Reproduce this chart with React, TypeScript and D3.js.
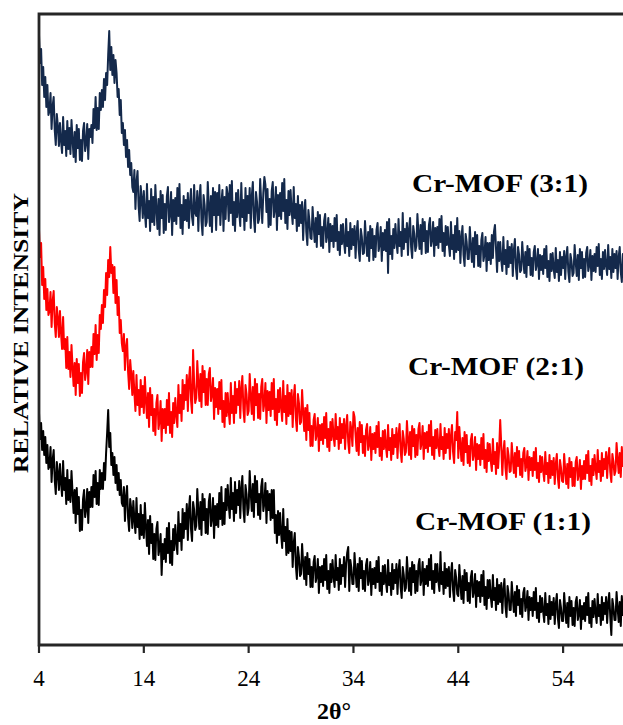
import React from "react";
import * as d3 from "d3";

// XRD patterns sampled every 0.1° from 2θ = 4° to 60° (relative intensity, a.u.)
const TWO_THETA_START = 4;
const TWO_THETA_STEP = 0.1;
const X_TICKS = [4, 14, 24, 34, 44, 54];
const SERIES_NAMES = ["Cr-MOF (3:1)", "Cr-MOF (2:1)", "Cr-MOF (1:1)"];

const CR_MOF_31 = [
  610, 582, 596, 560, 578, 548, 568, 538, 560, 530, // 4
  534, 552, 516, 539, 548, 515, 500, 531, 519, 499, // 5
  522, 504, 492, 528, 500, 514, 489, 524, 496, 517, // 6
  491, 525, 505, 488, 513, 483, 520, 497, 516, 485, // 7
  505, 484, 514, 522, 494, 502, 521, 486, 516, 508, // 8
  520, 502, 536, 517, 548, 515, 537, 516, 552, 535, // 9
  555, 538, 566, 545, 572, 560, 590, 614, 575, 598, // 10
  570, 590, 562, 585, 572, 548, 556, 530, 545, 512, // 11
  522, 500, 515, 488, 505, 478, 495, 470, 482, 458, // 12
  453, 475, 436, 463, 474, 439, 424, 459, 447, 427, // 13
  454, 432, 418, 461, 427, 444, 414, 456, 423, 448, // 14
  420, 460, 436, 416, 446, 410, 454, 427, 450, 412, // 15
  441, 415, 449, 458, 423, 431, 453, 410, 445, 424, // 16
  447, 421, 457, 429, 461, 417, 440, 411, 449, 425, // 17
  445, 424, 452, 417, 442, 456, 428, 420, 460, 432, // 18
  429, 454, 414, 446, 460, 424, 410, 450, 440, 419, // 19
  423, 463, 439, 419, 449, 413, 457, 430, 453, 415, // 20
  452, 430, 460, 420, 442, 455, 414, 448, 426, 458, // 21
  450, 424, 460, 432, 464, 420, 443, 414, 452, 428, // 22
  455, 433, 419, 462, 428, 445, 415, 457, 424, 449, // 23
  432, 457, 417, 449, 463, 427, 413, 453, 443, 422, // 24
  426, 466, 442, 422, 452, 468, 460, 433, 456, 418, // 25
  446, 420, 454, 463, 428, 436, 458, 415, 450, 429, // 26
  452, 426, 462, 434, 466, 422, 445, 416, 454, 430, // 27
  455, 434, 421, 458, 427, 441, 414, 449, 419, 440, // 28
  422, 443, 405, 433, 445, 413, 400, 435, 424, 407, // 29
  406, 438, 419, 403, 427, 398, 433, 411, 430, 399, // 30
  418, 397, 424, 431, 403, 410, 427, 393, 421, 404, // 31
  419, 398, 427, 404, 430, 395, 413, 390, 420, 401, // 32
  421, 403, 392, 426, 399, 413, 389, 422, 396, 416, // 33
  400, 419, 387, 413, 424, 395, 384, 416, 408, 391, // 34
  392, 424, 405, 389, 413, 384, 419, 397, 416, 385, // 35
  409, 388, 415, 422, 394, 401, 418, 384, 412, 395, // 36
  415, 394, 423, 372, 426, 391, 409, 386, 416, 397, // 37
  421, 403, 392, 426, 399, 413, 389, 432, 396, 416, // 38
  403, 422, 390, 416, 427, 398, 387, 419, 411, 394, // 39
  399, 431, 412, 396, 420, 391, 426, 404, 423, 392, // 40
  414, 393, 420, 427, 399, 406, 423, 389, 417, 400, // 41
  418, 397, 426, 403, 429, 394, 412, 389, 419, 400, // 42
  418, 400, 389, 423, 396, 410, 386, 419, 393, 427, // 43
  395, 414, 382, 408, 419, 390, 379, 411, 403, 386, // 44
  386, 418, 399, 383, 407, 378, 413, 391, 410, 379, // 45
  399, 378, 405, 412, 384, 391, 408, 374, 402, 385, // 46
  402, 381, 410, 387, 413, 420, 396, 373, 403, 384, // 47
  403, 385, 374, 408, 381, 395, 371, 404, 378, 398, // 48
  382, 401, 369, 395, 406, 377, 366, 398, 390, 373, // 49
  375, 403, 386, 372, 393, 368, 399, 380, 396, 370, // 50
  387, 369, 393, 399, 375, 381, 396, 366, 390, 375, // 51
  389, 371, 396, 377, 399, 368, 384, 364, 391, 374, // 52
  392, 376, 367, 397, 373, 385, 364, 393, 370, 388, // 53
  377, 394, 366, 388, 398, 373, 363, 391, 384, 369, // 54
  372, 400, 383, 369, 390, 365, 396, 377, 393, 367, // 55
  386, 368, 392, 398, 374, 380, 395, 365, 389, 374, // 56
  391, 373, 398, 379, 401, 370, 386, 366, 393, 376, // 57
  395, 379, 370, 400, 376, 388, 367, 396, 373, 391, // 58
  377, 394, 366, 388, 398, 373, 363, 391, 384, 369, // 59
  378,
];

const CR_MOF_21 = [
  415, 388, 402, 360, 378, 346, 366, 335, 356, 330, // 4
  334, 353, 318, 344, 354, 322, 308, 338, 327, 308, // 5
  334, 312, 296, 328, 296, 306, 277, 308, 276, 293, // 6
  268, 300, 278, 259, 282, 250, 286, 262, 281, 249, // 7
  272, 252, 283, 292, 265, 274, 295, 261, 293, 278, // 8
  298, 278, 311, 291, 320, 285, 310, 292, 330, 316, // 9
  340, 322, 355, 338, 372, 350, 385, 368, 398, 372, // 10
  380, 352, 378, 342, 365, 330, 348, 312, 325, 302, // 11
  294, 311, 275, 298, 306, 273, 256, 285, 271, 250, // 12
  274, 252, 234, 270, 240, 255, 230, 265, 238, 259, // 13
  232, 268, 245, 227, 252, 218, 257, 230, 250, 214, // 14
  236, 210, 242, 250, 216, 224, 244, 204, 236, 217, // 15
  236, 212, 245, 220, 252, 212, 233, 208, 242, 222, // 16
  247, 230, 218, 260, 232, 250, 224, 265, 236, 260, // 17
  245, 270, 234, 264, 278, 245, 232, 295, 262, 242, // 18
  247, 284, 262, 244, 271, 238, 279, 253, 274, 240, // 19
  266, 240, 271, 277, 244, 251, 267, 226, 257, 238, // 20
  256, 231, 263, 236, 265, 223, 244, 218, 252, 229, // 21
  252, 234, 221, 262, 232, 249, 222, 263, 232, 256, // 22
  240, 264, 227, 256, 269, 236, 223, 260, 251, 230, // 23
  234, 271, 249, 231, 258, 225, 266, 240, 261, 227, // 24
  251, 226, 258, 266, 234, 242, 262, 222, 254, 235, // 25
  253, 229, 262, 236, 266, 225, 246, 220, 255, 233, // 26
  257, 238, 224, 264, 233, 249, 221, 260, 229, 252, // 27
  231, 255, 218, 247, 260, 227, 214, 251, 242, 221, // 28
  223, 255, 233, 214, 237, 205, 240, 215, 232, 199, // 29
  219, 199, 225, 231, 205, 211, 227, 194, 220, 205, // 30
  221, 201, 228, 207, 232, 198, 216, 194, 223, 205, // 31
  226, 209, 199, 231, 206, 218, 196, 227, 202, 221, // 32
  207, 226, 196, 219, 230, 203, 192, 223, 215, 199, // 33
  233, 228, 210, 194, 217, 190, 223, 203, 220, 192, // 34
  209, 189, 215, 221, 195, 201, 218, 185, 211, 196, // 35
  212, 192, 219, 198, 223, 189, 207, 185, 214, 196, // 36
  215, 198, 188, 220, 195, 207, 185, 216, 191, 210, // 37
  198, 217, 187, 210, 221, 194, 183, 214, 206, 190, // 38
  193, 224, 206, 190, 213, 186, 219, 199, 216, 188, // 39
  210, 190, 216, 222, 196, 202, 219, 186, 212, 197, // 40
  213, 193, 220, 199, 224, 190, 208, 186, 215, 197, // 41
  216, 199, 189, 221, 196, 208, 186, 217, 192, 211, // 42
  197, 216, 186, 209, 220, 193, 182, 213, 205, 233, // 43
  187, 218, 200, 184, 207, 180, 213, 193, 210, 182, // 44
  199, 179, 205, 211, 185, 191, 208, 175, 201, 186, // 45
  200, 180, 207, 186, 211, 177, 195, 173, 202, 184, // 46
  201, 184, 174, 206, 181, 193, 171, 202, 177, 196, // 47
  225, 200, 170, 193, 204, 177, 166, 197, 189, 173, // 48
  174, 202, 186, 172, 192, 168, 198, 179, 194, 170, // 49
  186, 168, 192, 197, 174, 180, 194, 165, 188, 175, // 50
  187, 169, 193, 175, 197, 167, 182, 163, 189, 173, // 51
  188, 174, 164, 193, 171, 182, 162, 190, 167, 184, // 52
  170, 187, 161, 181, 191, 167, 157, 185, 177, 164, // 53
  163, 191, 175, 161, 181, 157, 187, 168, 183, 159, // 54
  177, 159, 183, 188, 165, 171, 185, 156, 179, 166, // 55
  184, 166, 190, 172, 194, 164, 179, 160, 186, 170, // 56
  190, 176, 166, 195, 173, 184, 164, 192, 169, 186, // 57
  176, 193, 167, 187, 197, 173, 163, 191, 183, 170, // 58
  174, 202, 186, 172, 192, 168, 198, 179, 194, 170, // 59
  186,
];

const CR_MOF_11 = [
  232, 206, 222, 195, 214, 190, 208, 182, 200, 176, // 4
  179, 198, 163, 185, 195, 165, 151, 183, 172, 155, // 5
  181, 162, 149, 184, 155, 167, 141, 175, 145, 165, // 6
  143, 174, 152, 132, 155, 122, 157, 131, 148, 114, // 7
  135, 115, 146, 155, 128, 136, 156, 122, 153, 138, // 8
  158, 138, 170, 148, 174, 141, 162, 140, 175, 156, // 9
  172, 156, 182, 165, 192, 212, 235, 198, 212, 180, // 10
  192, 170, 188, 162, 180, 155, 172, 150, 165, 142, // 11
  139, 158, 124, 148, 159, 127, 114, 146, 136, 117, // 12
  144, 125, 112, 147, 118, 131, 106, 140, 110, 130, // 13
  107, 142, 119, 99, 125, 91, 129, 102, 121, 86, // 14
  111, 85, 116, 123, 90, 97, 111, 70, 101, 86, // 15
  106, 83, 117, 92, 122, 82, 104, 80, 116, 95, // 16
  120, 103, 91, 133, 104, 121, 95, 136, 107, 132, // 17
  116, 141, 105, 135, 149, 116, 104, 143, 135, 115, // 18
  119, 156, 134, 116, 143, 110, 151, 125, 146, 112, // 19
  136, 111, 143, 151, 119, 127, 147, 107, 139, 120, // 20
  141, 118, 152, 126, 158, 120, 142, 121, 156, 135, // 21
  160, 141, 127, 167, 136, 152, 124, 163, 132, 155, // 22
  140, 164, 127, 156, 169, 136, 123, 160, 151, 130, // 23
  137, 174, 152, 134, 161, 128, 169, 143, 164, 130, // 24
  151, 126, 158, 166, 134, 142, 162, 122, 154, 135, // 25
  151, 125, 155, 127, 155, 112, 130, 102, 134, 110, // 26
  132, 111, 97, 136, 104, 118, 90, 126, 92, 114, // 27
  94, 113, 78, 102, 112, 80, 66, 98, 88, 69, // 28
  71, 101, 82, 66, 88, 60, 92, 71, 86, 58, // 29
  78, 58, 83, 89, 63, 69, 86, 52, 78, 63, // 30
  79, 59, 86, 65, 90, 56, 74, 52, 81, 63, // 31
  85, 68, 58, 90, 65, 77, 55, 86, 61, 80, // 32
  69, 88, 58, 81, 92, 98, 54, 85, 77, 61, // 33
  61, 92, 74, 58, 81, 54, 87, 67, 84, 56, // 34
  74, 54, 80, 86, 60, 66, 83, 50, 76, 61, // 35
  77, 57, 84, 63, 88, 54, 72, 50, 79, 61, // 36
  80, 63, 53, 85, 60, 72, 50, 81, 56, 75, // 37
  62, 81, 51, 74, 85, 58, 47, 78, 70, 54, // 38
  57, 88, 70, 54, 77, 50, 83, 63, 80, 52, // 39
  74, 54, 80, 86, 60, 66, 83, 50, 76, 61, // 40
  79, 59, 86, 65, 90, 56, 74, 52, 81, 63, // 41
  81, 64, 54, 93, 61, 73, 51, 82, 57, 76, // 42
  59, 78, 48, 71, 82, 55, 44, 75, 67, 51, // 43
  49, 80, 62, 46, 69, 42, 75, 55, 72, 44, // 44
  62, 42, 68, 74, 48, 54, 71, 38, 64, 49, // 45
  63, 43, 70, 49, 74, 40, 58, 36, 65, 47, // 46
  65, 48, 38, 70, 45, 57, 35, 66, 41, 60, // 47
  43, 62, 32, 55, 66, 39, 28, 59, 51, 35, // 48
  35, 63, 47, 33, 53, 29, 59, 40, 55, 31, // 49
  46, 28, 52, 57, 34, 40, 54, 25, 48, 35, // 50
  47, 29, 53, 35, 57, 27, 42, 23, 49, 33, // 51
  47, 33, 23, 52, 30, 41, 21, 49, 26, 43, // 52
  30, 47, 21, 41, 51, 27, 17, 45, 37, 24, // 53
  24, 52, 36, 22, 42, 18, 48, 29, 44, 20, // 54
  37, 19, 43, 48, 25, 31, 45, 16, 39, 26, // 55
  42, 24, 48, 30, 52, 22, 37, 18, 44, 28, // 56
  46, 32, 22, 51, 29, 40, 20, 48, 25, 42, // 57
  31, 48, 22, 42, 52, 28, 10, 46, 38, 25, // 58
  25, 53, 37, 23, 43, 19, 49, 30, 45, 21, // 59
  33,
];

const SERIES = [
  { name: SERIES_NAMES[0], values: CR_MOF_31, color: "#14294b", label: { x: 500, y: 192 } },
  { name: SERIES_NAMES[1], values: CR_MOF_21, color: "#ff0000", label: { x: 496, y: 375 } },
  { name: SERIES_NAMES[2], values: CR_MOF_11, color: "#000000", label: { x: 503, y: 530 } },
];

const W = 623;
const H = 725;
const M = { left: 39, top: 14, right: 626, bottom: 645 };

export default function App() {
  const x = d3.scaleLinear().domain([4, 60]).range([M.left, M.right]);
  const y = d3.scaleLinear().domain([0, 631]).range([M.bottom, M.top]);
  const line = d3
    .line<number>()
    .x((_, i) => x(TWO_THETA_START + i * TWO_THETA_STEP))
    .y((v) => y(v));

  const font = "'Liberation Serif', 'Times New Roman', serif";

  return (
    <svg
      width={W}
      height={H}
      style={{ position: "absolute", left: 0, top: 0, background: "#fff" }}
      fontFamily={font}
    >
      <defs>
        <clipPath id="plot">
          <rect x={M.left} y={M.top} width={M.right - M.left} height={M.bottom - M.top} />
        </clipPath>
      </defs>
      <g clipPath="url(#plot)">
        {[...SERIES].reverse().map((s) => (
          <path
            key={s.name}
            d={line(s.values) || ""}
            fill="none"
            stroke={s.color}
            strokeWidth={2}
            strokeLinejoin="round"
          />
        ))}
      </g>
      {/* frame */}
      <path
        d={`M${W + 5},${M.top} H${M.left} V${M.bottom} H${W + 5}`}
        fill="none"
        stroke="#262626"
        strokeWidth={2.8}
      />
      {/* x ticks */}
      {X_TICKS.map((t) => (
        <g key={t}>
          <line x1={x(t)} x2={x(t)} y1={M.bottom} y2={M.bottom + 8} stroke="#262626" strokeWidth={2.2} />
          <text x={x(t)} y={686} textAnchor="middle" fontSize={23} fill="#000">
            {t}
          </text>
        </g>
      ))}
      <text x={334} y={719} textAnchor="middle" fontSize={24} fontWeight="bold" fill="#000">
        2θ°
      </text>
      <text
        transform={`translate(28,333) rotate(-90)`}
        textAnchor="middle"
        fontSize={21}
        fontWeight="bold"
        fill="#000"
        textLength={280}
        lengthAdjust="spacingAndGlyphs"
      >
        RELATIVE INTENSITY
      </text>
      {SERIES.map((s) => (
        <text
          key={s.name + "-label"}
          x={s.label.x}
          y={s.label.y}
          textAnchor="middle"
          fontSize={26}
          fontWeight="bold"
          fill="#000"
          textLength={176}
          lengthAdjust="spacingAndGlyphs"
        >
          {s.name}
        </text>
      ))}
    </svg>
  );
}
